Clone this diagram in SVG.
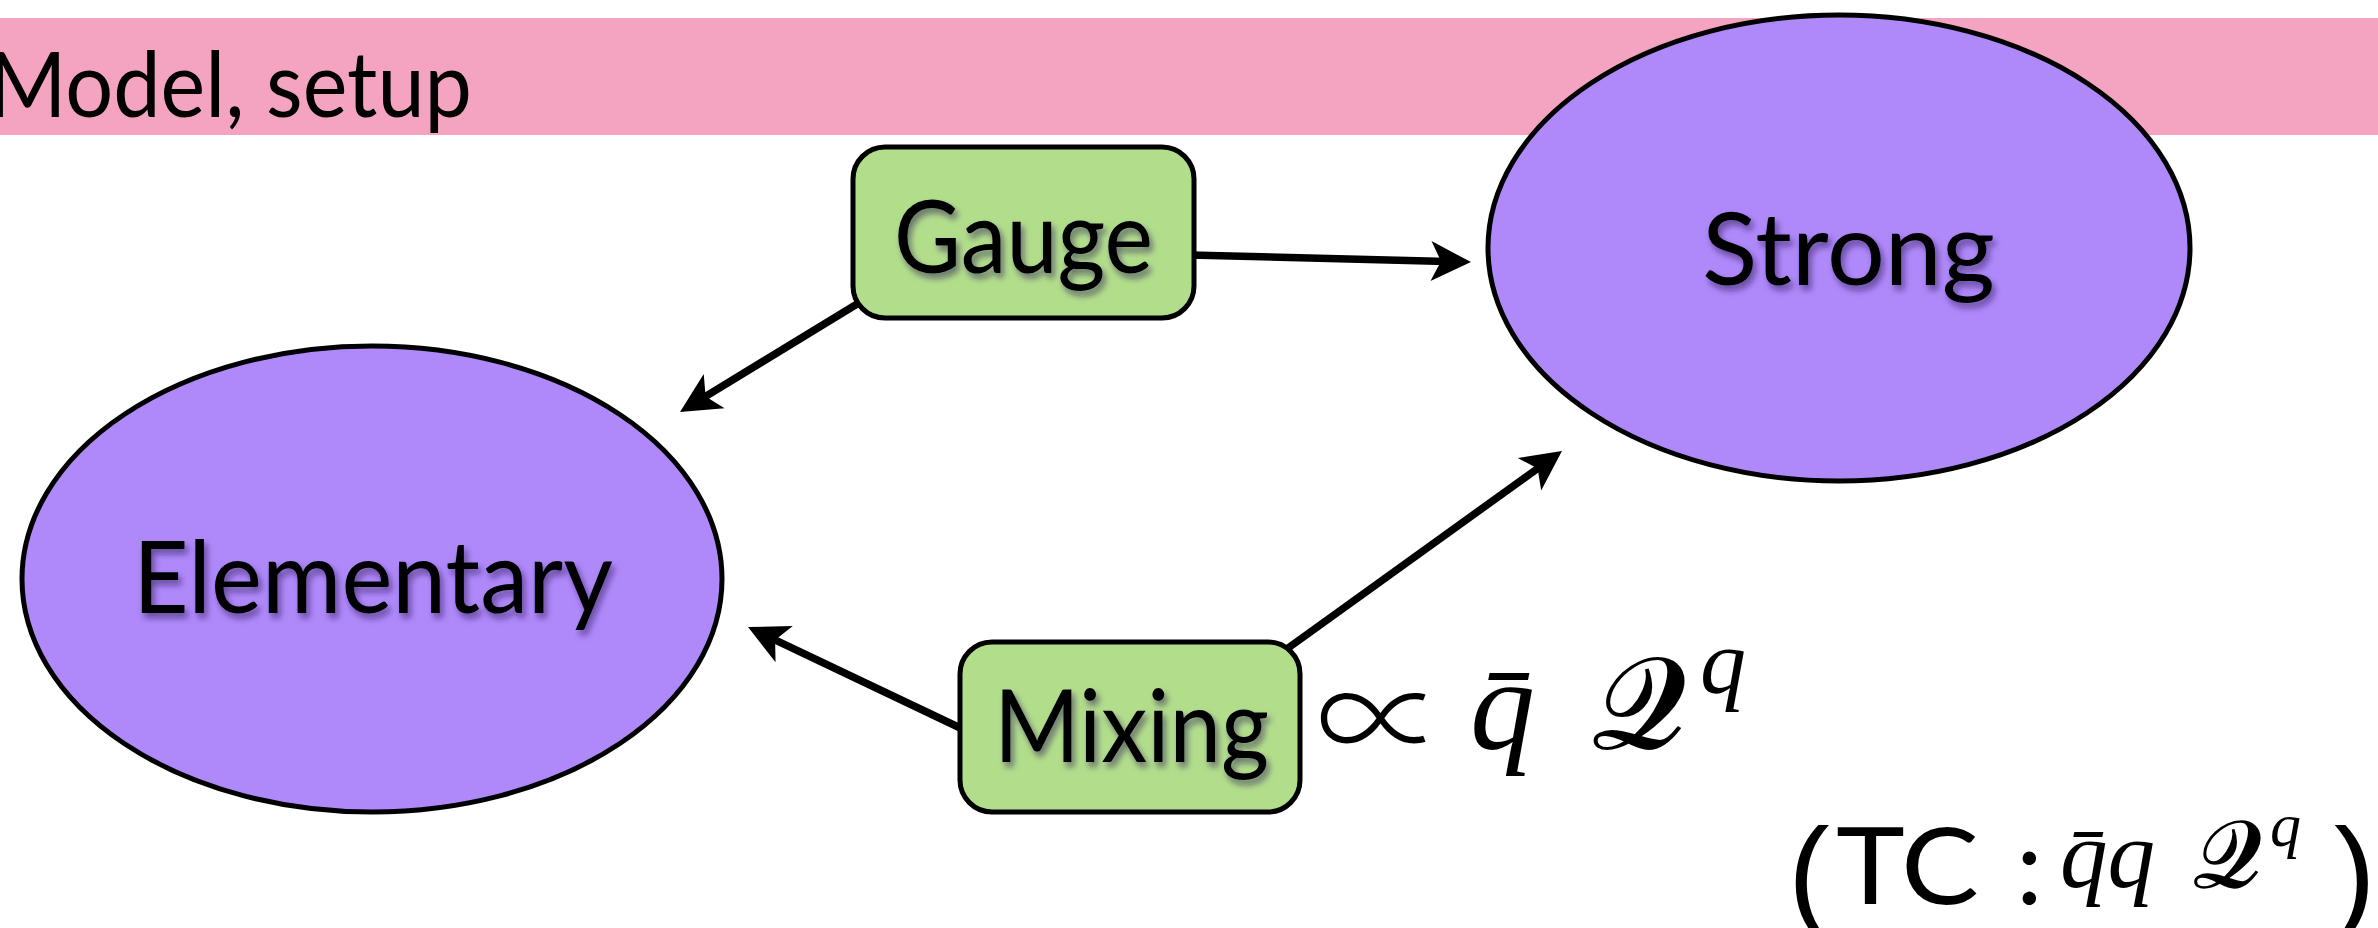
<svg xmlns="http://www.w3.org/2000/svg" width="2378" height="928" viewBox="0 0 2378 928">
  <defs>
    <style>
      .band { fill: #F4A3C0; }
      .title { font-family: Lato, "Open Sans", "Liberation Sans", sans-serif; font-size: 92px; fill: #000; }
      .ell { fill: #AF89FA; stroke: #000; stroke-width: 5; }
      .box { fill: #B2DE8C; stroke: #000; stroke-width: 5; }
      .lbl { font-family: Lato, "Open Sans", "Liberation Sans", sans-serif; font-size: 100px; fill: #000; filter: url(#tshadow); }
      .conn { stroke: #000; stroke-width: 7.5; fill: none; marker-end: url(#arrow); }
      .math { font-family: "Liberation Serif", "DejaVu Serif", serif; font-style: italic; fill: #000; }
      .cal { font-family: "Liberation Serif", "DejaVu Serif", serif; font-style: normal; fill: #000; stroke: #000; stroke-width: 2; }
      .sym { font-family: "Noto Sans CJK JP", "DejaVu Serif", serif; font-weight: 300; fill: #000; }
      .plain { font-family: Lato, "Open Sans", "Liberation Sans", sans-serif; fill: #000; }
      .paren { font-family: "Liberation Sans", sans-serif; font-size: 125px; fill: #000; }
    </style>
    <filter id="tshadow" x="-10%" y="-25%" width="120%" height="160%">
      <feDropShadow dx="3" dy="5" stdDeviation="3" flood-color="#2a1850" flood-opacity="0.55"/>
    </filter>
    <marker id="arrow" markerUnits="userSpaceOnUse" markerWidth="48" markerHeight="48" viewBox="-44 -22 48 44" refX="-24" refY="0" orient="auto">
      <path d="M0,0 L-40,-20 L-30,0 L-40,20 Z" fill="#000"/>
    </marker>
  </defs>

  <!-- header band -->
  <rect class="band" x="0" y="18" width="2378" height="117"/>
  <text class="title" x="-12" y="117" textLength="484" lengthAdjust="spacingAndGlyphs">Model, setup</text>

  <!-- connectors -->
  <g id="connectors">
    <path class="conn" d="M1190,255 L1447,261.5"/>
    <path class="conn" d="M880,290 L700.5,399.5"/>
    <path class="conn" d="M975,735 L769.7,637.3"/>
    <path class="conn" d="M1270,661 L1542.5,465"/>
  </g>

  <!-- nodes -->
  <g id="elementary">
    <ellipse class="ell" cx="372" cy="579" rx="350" ry="233"/>
    <text class="lbl" x="133" y="613" textLength="480" lengthAdjust="spacingAndGlyphs">Elementary</text>
  </g>
  <g id="strong">
    <ellipse class="ell" cx="1839" cy="248" rx="351" ry="233"/>
    <text class="lbl" x="1702" y="285" textLength="293" lengthAdjust="spacingAndGlyphs">Strong</text>
  </g>
  <g id="gauge">
    <rect class="box" x="853" y="147" width="341" height="171" rx="32" ry="32"/>
    <text class="lbl" x="894" y="273" textLength="259" lengthAdjust="spacingAndGlyphs">Gauge</text>
  </g>
  <g id="mixing">
    <rect class="box" x="960" y="642" width="340" height="170" rx="32" ry="32"/>
    <text class="lbl" x="994" y="762" textLength="275" lengthAdjust="spacingAndGlyphs">Mixing</text>
  </g>

  <!-- mixing term -->
  <g id="mixing-term">
    <text class="sym" x="1316" y="767" font-size="129">∝</text>
    <text class="math" x="1470" y="748" font-size="130">q̄</text>
    <text class="cal" x="1592" y="748" font-size="130">𝒬</text>
    <text class="math" x="1700" y="693" font-size="92">q</text>
  </g>

  <!-- technicolor case -->
  <g id="tc-term">
    <text class="paren" x="1788" y="915">(</text>
    <text class="plain" x="1836" y="904" font-size="107" textLength="143" lengthAdjust="spacingAndGlyphs">TC</text>
    <text class="plain" x="2016" y="904" font-size="107">:</text>
    <text class="math" x="2060" y="887" font-size="95">q̄q</text>
    <text class="cal" x="2193" y="887" font-size="95" style="stroke-width:1.5">𝒬</text>
    <text class="math" x="2270" y="846" font-size="62">q</text>
    <text class="paren" x="2334" y="915">)</text>
  </g>
</svg>
